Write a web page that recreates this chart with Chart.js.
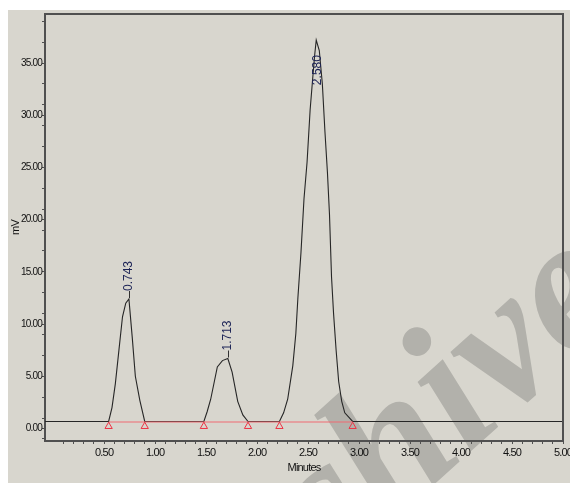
<!DOCTYPE html>
<html>
<head>
<meta charset="utf-8">
<title>Chromatogram</title>
<script src="https://cdn.jsdelivr.net/npm/chart.js@4.4.1/dist/chart.umd.min.js"></script>
<style>
  html, body { margin: 0; padding: 0; background: #ffffff; overflow: hidden; }
  #wrap { width: 570px; height: 483px; position: relative; }
</style>
</head>
<body>
<div id="wrap"><canvas id="chrom" width="570" height="483"></canvas></div>
<script>
// ---- detector trace (time in minutes, signal in mV) ----
const baselineLevel = 0.67;
const markerLevel = 0.2;

const peakTimes   = [0.743, 1.713, 2.580];
const peakHeights = [12.4, 6.7, 37.2];
const peakLabels  = ['0.743', '1.713', '2.580'];

// rising side / falling side samples of each peak (apex comes from peakTimes/peakHeights)
const peak1RiseTimes = [0.544, 0.577, 0.610, 0.645, 0.680, 0.712];
const peak1RiseMv    = [0.67, 2.0, 4.3, 7.5, 10.7, 12.0];
const peak1FallTimes = [0.775, 0.806, 0.850, 0.898];
const peak1FallMv    = [8.8, 5.0, 2.7, 0.67];

const peak2RiseTimes = [1.478, 1.510, 1.545, 1.610, 1.660];
const peak2RiseMv    = [0.67, 1.6, 2.8, 5.9, 6.5];
const peak2FallTimes = [1.755, 1.810, 1.860, 1.911];
const peak2FallMv    = [5.4, 2.6, 1.3, 0.67];

const peak3RiseTimes = [2.219, 2.260, 2.300, 2.350, 2.380, 2.400, 2.430, 2.460, 2.490, 2.520, 2.545, 2.565];
const peak3RiseMv    = [0.67, 1.5, 2.8, 6.0, 9.1, 12.5, 16.8, 22.0, 25.5, 30.5, 33.5, 35.8];
const peak3FallTimes = [2.610, 2.640, 2.665, 2.690, 2.710, 2.730, 2.750, 2.775, 2.800, 2.830, 2.860, 2.937];
const peak3FallMv    = [36.2, 33.0, 28.5, 24.5, 20.5, 14.5, 11.0, 7.5, 4.5, 2.6, 1.5, 0.67];

// integration start/stop marks
const markTimes = [0.544, 0.898, 1.478, 1.911, 2.219, 2.937];

// axis ranges and tick labels
const timeMin = -0.08, timeMax = 5.0;
const mvMin = -1.2, mvMax = 39.7;
const xMajorTicks  = [0.5, 1.0, 1.5, 2.0, 2.5, 3.0, 3.5, 4.0, 4.5, 5.0];
const xMajorLabels = ['0.50', '1.00', '1.50', '2.00', '2.50', '3.00', '3.50', '4.00', '4.50', '5.00'];
const yMajorTicks  = [0, 5, 10, 15, 20, 25, 30, 35];
const yMajorLabels = ['0.00', '5.00', '10.00', '15.00', '20.00', '25.00', '30.00', '35.00'];

// ---- assemble the trace ----
function peakPoints(riseT, riseV, apexT, apexV, fallT, fallV) {
  const pts = riseT.map((t, i) => ({ x: t, y: riseV[i] }));
  pts.push({ x: apexT, y: apexV });
  fallT.forEach((t, i) => pts.push({ x: t, y: fallV[i] }));
  return pts;
}
const trace = [{ x: timeMin, y: baselineLevel }]
  .concat(peakPoints(peak1RiseTimes, peak1RiseMv, peakTimes[0], peakHeights[0], peak1FallTimes, peak1FallMv))
  .concat(peakPoints(peak2RiseTimes, peak2RiseMv, peakTimes[1], peakHeights[1], peak2FallTimes, peak2FallMv))
  .concat(peakPoints(peak3RiseTimes, peak3RiseMv, peakTimes[2], peakHeights[2], peak3FallTimes, peak3FallMv))
  .concat([{ x: timeMax, y: baselineLevel }]);

const integrationLine = [
  { x: markTimes[0], y: baselineLevel - 0.05 },
  { x: markTimes[markTimes.length - 1], y: baselineLevel - 0.05 }
];
const marks = markTimes.map(t => ({ x: t, y: markerLevel }));

// tick lists: labelled majors plus unlabelled minors (0.1 min / every odd mV)
const xTicks = [], xTickLabels = [];
for (let k = 1; k <= 50; k++) {
  const v = k / 10;
  const mi = xMajorTicks.indexOf(v);
  xTicks.push(v);
  xTickLabels.push(mi >= 0 ? xMajorLabels[mi] : '');
}
const yTicks = [], yTickLabels = [];
for (let v = -1; v <= 39; v++) {
  const mi = yMajorTicks.indexOf(v);
  if (mi >= 0) { yTicks.push(v); yTickLabels.push(yMajorLabels[mi]); }
  else if (Math.abs(v % 2) === 1) { yTicks.push(v); yTickLabels.push(''); }
}

const AXIS = '#505050';
const TICK_FONT = "'Liberation Sans Narrow', 'Liberation Sans', Arial, sans-serif";

// page background, grey panel and the diagonal watermark
const backdrop = {
  id: 'backdrop',
  beforeDraw(chart) {
    const ctx = chart.ctx;
    const w = chart.width, h = chart.height;
    ctx.save();
    ctx.fillStyle = '#ffffff';
    ctx.fillRect(0, 0, w, h);
    ctx.fillStyle = '#d8d6ce';
    ctx.fillRect(8, 10, w - 8, h - 10);
    ctx.translate(632, 306);
    ctx.rotate(-42 * Math.PI / 180);
    ctx.font = "italic bold 190px 'Liberation Serif', 'DejaVu Serif', serif";
    ctx.fillStyle = '#b2b1ab';
    ctx.textAlign = 'right';
    ctx.textBaseline = 'alphabetic';
    ctx.fillText('Archive', 0, 0);
    ctx.restore();
    // compact axis lettering
    ctx.letterSpacing = '-0.8px';
  }
};

// top/right frame and the retention-time annotations
const annotate = {
  id: 'annotate',
  afterDatasetsDraw(chart) {
    const ctx = chart.ctx;
    const a = chart.chartArea;
    const xs = chart.scales.x, ys = chart.scales.y;
    ctx.save();
    ctx.letterSpacing = '0px';
    ctx.strokeStyle = AXIS;
    ctx.lineWidth = 2;
    ctx.beginPath();
    ctx.moveTo(a.left, a.top);
    ctx.lineTo(a.right, a.top);
    ctx.lineTo(a.right, a.bottom);
    ctx.stroke();

    ctx.font = "12px 'Liberation Sans', Arial, sans-serif";
    ctx.fillStyle = '#1c2356';
    ctx.textBaseline = 'middle';
    peakTimes.forEach((t, i) => {
      const px = xs.getPixelForValue(t);
      const py = ys.getPixelForValue(peakHeights[i]);
      const tw = ctx.measureText(peakLabels[i]).width;
      ctx.save();
      if (py - 8 - tw > a.top + 4) {
        ctx.strokeStyle = '#303030';
        ctx.lineWidth = 1;
        ctx.beginPath();
        ctx.moveTo(Math.round(px) + 0.5, py - 1);
        ctx.lineTo(Math.round(px) + 0.5, py - 8);
        ctx.stroke();
        ctx.translate(px, py - 8);
        ctx.rotate(-Math.PI / 2);
        ctx.textAlign = 'left';
        ctx.fillText(peakLabels[i], 0, 0);
      } else {
        // no room above the apex: label sits just below it
        ctx.translate(px + 1, py + 15);
        ctx.rotate(-Math.PI / 2);
        ctx.textAlign = 'right';
        ctx.fillText(peakLabels[i], 0, 0);
      }
      ctx.restore();
    });
    ctx.restore();
  }
};

new Chart(document.getElementById('chrom'), {
  type: 'line',
  data: {
    datasets: [
      {
        label: 'marks',
        type: 'scatter',
        data: marks,
        showLine: false,
        pointStyle: 'triangle',
        pointRadius: 4.2,
        pointBorderWidth: 1,
        pointBorderColor: '#ee3344',
        pointBackgroundColor: 'rgba(0,0,0,0)',
        order: 0
      },
      {
        label: 'integration',
        data: integrationLine,
        borderColor: '#ef6a72',
        borderWidth: 1.2,
        pointRadius: 0,
        order: 1
      },
      {
        label: 'signal',
        data: trace,
        borderColor: '#262626',
        borderWidth: 1.1,
        pointRadius: 0,
        tension: 0,
        order: 2
      }
    ]
  },
  options: {
    responsive: false,
    animation: false,
    devicePixelRatio: 1,
    layout: { padding: { left: 0, top: 14, right: 7, bottom: 0 } },
    plugins: { legend: { display: false }, tooltip: { enabled: false } },
    scales: {
      x: {
        type: 'linear',
        min: timeMin,
        max: timeMax,
        afterBuildTicks: s => { s.ticks = xTicks.map(v => ({ value: v })); },
        afterFit: s => { s.height = 42; s.paddingLeft = 0; s.paddingRight = 0; },
        ticks: {
          autoSkip: false, maxRotation: 0, minRotation: 0, padding: 2,
          color: '#111111',
          font: { family: TICK_FONT, size: 11 },
          callback: (v, i) => xTickLabels[i]
        },
        grid: { drawOnChartArea: false, drawTicks: true, tickLength: 3, tickColor: AXIS, tickWidth: 1 },
        border: { display: true, color: AXIS, width: 2 },
        title: {
          display: true, text: 'Minutes', color: '#111111',
          font: { family: TICK_FONT, size: 11 },
          padding: { top: 0, bottom: 8 }
        }
      },
      y: {
        type: 'linear',
        min: mvMin,
        max: mvMax,
        afterBuildTicks: s => { s.ticks = yTicks.map(v => ({ value: v })); },
        afterFit: s => { s.width = 45; s.paddingTop = 0; s.paddingBottom = 0; },
        ticks: {
          autoSkip: false, padding: 0,
          color: '#111111',
          font: { family: TICK_FONT, size: 10 },
          callback: (v, i) => yTickLabels[i]
        },
        grid: { drawOnChartArea: false, drawTicks: true, tickLength: 3, tickColor: AXIS, tickWidth: 1 },
        border: { display: true, color: AXIS, width: 2 },
        title: {
          display: true, text: 'mV', color: '#111111',
          font: { family: TICK_FONT, size: 11 },
          padding: { top: 9, bottom: 0 }
        }
      }
    }
  },
  plugins: [backdrop, annotate]
});
</script>
</body>
</html>
